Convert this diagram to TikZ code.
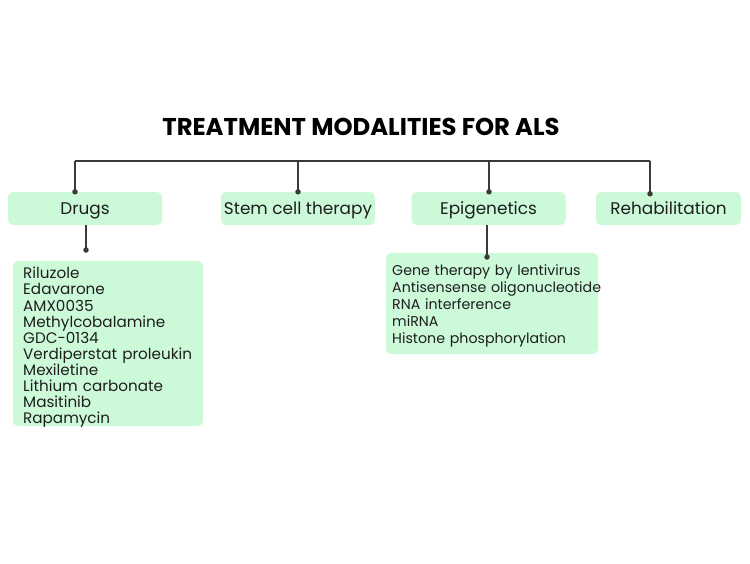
\documentclass[tikz,border=0pt]{standalone}
\usepackage{fontspec}
\setmainfont{Poppins}
\begin{document}
\begin{tikzpicture}[x=1pt,y=-1pt,
  catbox/.style={fill=boxgreen,rounded corners=5pt,minimum width=#1,minimum height=33pt,inner sep=0pt,text height=12.5pt,text depth=0pt,font=\fontsize{16.9}{20}\selectfont,text=textdark},
  listbg/.style={fill=boxgreen,rounded corners=5pt,inner sep=0pt},
  listtext/.style={anchor=west,align=left,inner sep=0pt,font=\fontsize{15.2}{16.1}\selectfont,text=textdark},
  conn/.style={draw=linegray,line width=1.4pt},
  dot/.style={circle,fill=linegray,inner sep=0pt,minimum size=5.5pt}]
\definecolor{boxgreen}{HTML}{CCFAD9}
\definecolor{linegray}{HTML}{3A3A3A}
\definecolor{textdark}{HTML}{1E1E1E}
\useasboundingbox (0,0) rectangle (750,563);
\fill[white] (0,0) rectangle (750,563);

\node[font=\bfseries\fontsize{24.3}{27}\selectfont,text=black] (title) at (361,127) {TREATMENT MODALITIES FOR ALS};

\node[catbox=154pt] (drugs) at (85,208.5) {Drugs};
\node[catbox=154pt] (stem) at (298,208.5) {Stem cell therapy};
\node[catbox=154pt] (epi) at (488.5,208.5) {Epigenetics};
\node[catbox=145pt] (rehab) at (668.5,208.5) {Rehabilitation};

\node[listbg,minimum width=190pt,minimum height=165pt] (druglistbox) at (108,343.5) {};
\node[listtext,text width=170pt] (druglist) at (23,347.5)
 {Riluzole\\Edavarone\\AMX0035\\Methylcobalamine\\GDC-0134\\Verdiperstat proleukin\\Mexiletine\\Lithium carbonate\\Masitinib\\Rapamycin};
\node[listbg,minimum width=212pt,minimum height=101pt] (epilistbox) at (492,303.5) {};
\node[listtext,text width=200pt,font=\fontsize{14.2}{16.8}\selectfont] (epilist) at (392,306)
 {\mbox{Gene therapy by lentivirus}\\\mbox{Antisensense oligonucleotide}\\RNA interference\\miRNA\\\mbox{Histone phosphorylation}};

\coordinate (busL) at (75,161);
\coordinate (busS) at (298,161);
\coordinate (busE) at (489,161);
\coordinate (busR) at (650,161);
\draw[conn] (busL) -- (busR);
\draw[conn] (busL) -- (busL |- drugs.north) node[dot] {};
\draw[conn] (busS) -- (busS |- stem.north) node[dot] {};
\draw[conn] (busE) -- (busE |- epi.north) node[dot] {};
\draw[conn] (busR) -- ([yshift=-2pt]busR |- rehab.north) node[dot] {};

\coordinate (drugsend) at (86,250);
\draw[conn] (drugsend |- drugs.south) -- (drugsend) node[dot] {};
\coordinate (epiend) at (487,257);
\draw[conn] (epiend |- epi.south) -- (epiend) node[dot] {};
\end{tikzpicture}
\end{document}
